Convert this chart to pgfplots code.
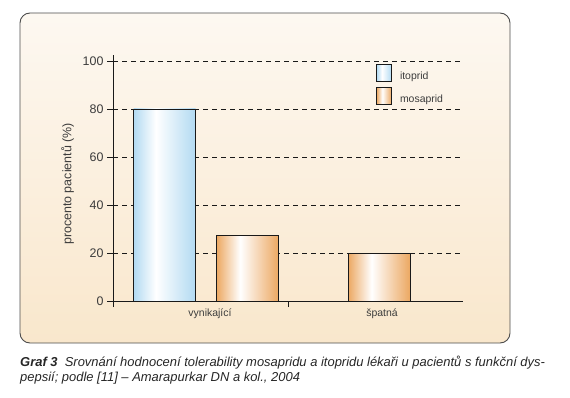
\documentclass[border=0pt]{standalone}
\usepackage{pgfplots}
\pgfplotsset{compat=1.18}
\usepackage{fontspec}
\setmainfont{Liberation Sans}
\definecolor{bluedge}{RGB}{178,218,242}
\definecolor{orgedge}{RGB}{236,168,98}
\definecolor{bgtop}{RGB}{253,248,241}
\definecolor{bgbot}{RGB}{249,231,204}
\definecolor{txt}{RGB}{60,60,60}
\pgfdeclarehorizontalshading{itoshade}{100bp}{color(0bp)=(bluedge); color(25bp)=(bluedge); color(43bp)=(white); color(75bp)=(bluedge); color(100bp)=(bluedge)}
\pgfdeclarehorizontalshading{mosshade}{100bp}{color(0bp)=(orgedge); color(25bp)=(orgedge); color(44bp)=(white); color(75bp)=(orgedge); color(100bp)=(orgedge)}
\pgfplotsset{
  mylegend/.style={legend image code/.code={\draw[##1, draw=black!90, line width=0.8bp] (0bp,-5bp) rectangle (15bp,12bp);}},
}
\begin{document}
\begin{tikzpicture}[x=1bp,y=1bp]
\path[use as bounding box] (0,0) rectangle (570,397);
\draw[rounded corners=10bp, draw=black!70, line width=0.9bp, top color=bgtop, bottom color=bgbot] (20,54) rectangle (510,384);
\begin{axis}[
  at={(113bp,96bp)}, anchor=south west, scale only axis,
  width=350bp, height=246bp,
  xmin=113, xmax=463, ymin=0, ymax=102.5,
  axis lines*=left,
  axis line style={black!90, line width=0.8bp},
  ytick={0,20,40,60,80,100},
  ymajorgrids,
  grid style={black!90, line width=0.8bp, dash pattern=on 5bp off 4bp},
  xtick={113,288}, xticklabels={},
  extra x ticks={210,382},
  extra x tick labels={vynikající,špatná},
  extra x tick style={major tick length=0pt, xticklabel style={yshift=-4bp}},
  tick align=outside,
  major tick length=6bp,
  tick style={black!90, line width=0.8bp},
  /pgf/number format/assume math mode=true,
  yticklabel style={font=\fontsize{12.5}{14}\selectfont, text=txt},
  xticklabel style={font=\fontsize{10.5}{12}\selectfont, text=txt},
  ylabel={procento pacientů (\%)},
  ylabel style={font=\fontsize{12.5}{14}\selectfont, text=txt, xshift=-6bp, yshift=2bp},
  legend style={at={(axis cs:376,98.75)}, anchor=north west, draw=none, fill=none,
    inner sep=0pt, row sep=5bp, font=\fontsize{10.5}{12}\selectfont, text=txt,
    nodes={inner sep=0pt},
    /tikz/every odd column/.style={column sep=8bp}},
  legend cell align=left,
]
\addplot[ybar, bar width=62, bar shift=0pt, draw=black!90, line width=0.8bp, shade, shading=itoshade, mylegend] coordinates {(164.5,80)};
\addlegendentry{itoprid}
\addplot[ybar, bar width=62, bar shift=0pt, draw=black!90, line width=0.8bp, shade, shading=mosshade, mylegend] coordinates {(247.5,27.3)};
\addlegendentry{mosaprid}
\addplot[ybar, bar width=62, bar shift=0pt, draw=black!90, line width=0.8bp, shade, shading=mosshade, forget plot] coordinates {(379,20)};
\end{axis}
\node[anchor=base west, inner sep=0pt, font=\fontsize{13}{15}\selectfont\itshape, text=black!85] at (20,31) {\textbf{Graf 3}\ \ Srovnání hodnocení tolerability mosapridu a itopridu lékaři u pacientů s funkční dys-};
\node[anchor=base west, inner sep=0pt, font=\fontsize{13}{15}\selectfont\itshape, text=black!85] at (20,15.5) {pepsií; podle [11] – Amarapurkar DN a kol., 2004};
\end{tikzpicture}
\end{document}
